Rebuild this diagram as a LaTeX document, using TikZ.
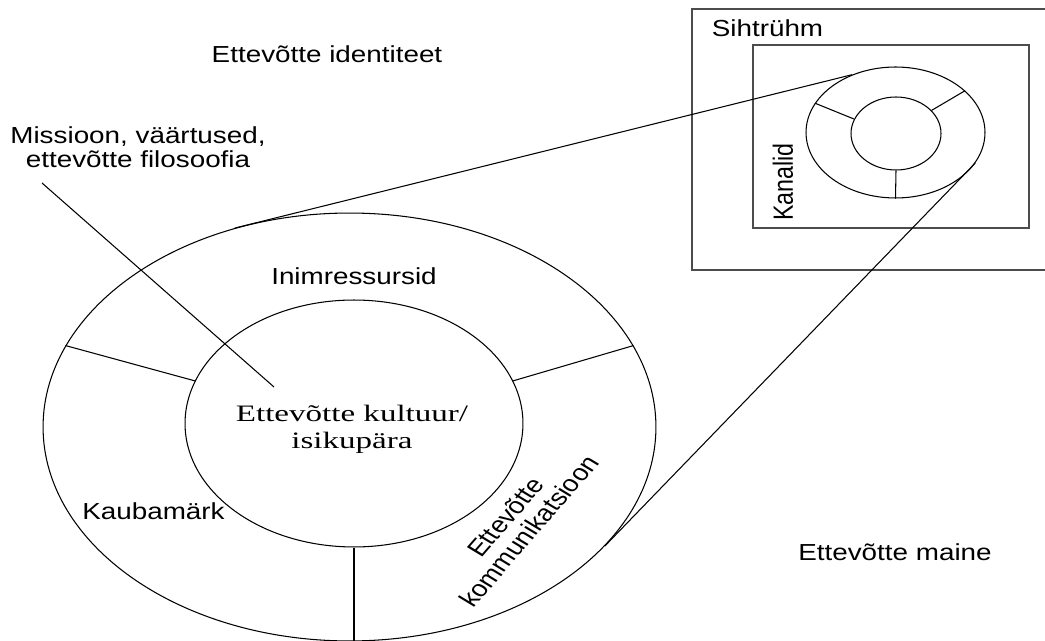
\documentclass[tikz,border=0pt]{standalone}
\usepackage{fontspec}
\setmainfont{Liberation Serif}
\setsansfont{Liberation Sans}
\usetikzlibrary{shapes.geometric}
\usetikzlibrary{calc}

\tikzset{
  ring/.style={ellipse, draw, inner sep=0pt, line width=0.6pt},
  wire/.style={line width=0.6pt},
  frame/.style={line width=0.8pt, black!70},
  lbl/.style={font=\sffamily\fontsize{13.2}{14.2}\selectfont, xscale=1.2, inner sep=0pt, anchor=base, align=center},
  lblserif/.style={lbl, font=\rmfamily\fontsize{13.4}{15.4}\selectfont, xscale=1.17}
}

\begin{document}
\begin{tikzpicture}[x=0.02cm, y=-0.02cm]

      \useasboundingbox (0,0) rectangle (1045,641);

      % Big rings
      \node[ring, minimum width=12.26cm, minimum height=8.56cm] (outer) at (349.5,427) {};
      \node[ring, minimum width=6.76cm, minimum height=4.94cm] (inner) at (354,423.5) {};
      \draw[wire] (inner.165) -- (outer.164);
      \draw[wire] (inner.15) -- (outer.16);
      \draw[wire] (inner.south) -- (inner.south |- outer.south);

      % Frames
      \draw[frame] (1045,9) -- (692,9) -- (692,270) -- (1045,270);
      \draw[frame] (753,45) rectangle (1029,228);

      % Small rings
      \node[ring, minimum width=3.58cm, minimum height=2.62cm] (souter) at (895.5,132.5) {};
      \node[ring, minimum width=1.8cm, minimum height=1.46cm] (sinner) at (896,133.5) {};
      \draw[wire] (sinner.161) -- (souter.160);
      \draw[wire] (sinner.33) -- (souter.31);
      \draw[wire] (sinner.south) -- (souter.south);

      % Zoom lines
      \draw[wire] (outer.120) -- (souter.127);
      \draw[wire] (outer.335) -- (souter.339);

      % Labels (base = last line)
      \node[lbl] (identity) at (327,63) {Ettevõtte identiteet};
      \node[lbl] (mission) at (138,168) {Missioon, väärtused,\\ ettevõtte filosoofia};
      \node[lbl] (target) at (767.5,37) {Sihtrühm};
      \node[lbl] (hr) at (354,285) {Inimressursid};
      \node[lbl] (brand) at (153.5,520) {Kaubamärk};
      \node[lblserif] (culture) at (352,449) {Ettevõtte kultuur/\\ isikupära};
      \node[lbl] (reputation) at (895,561) {Ettevõtte maine};
      \node[lbl, anchor=center, rotate=90] (channels) at (783,182) {Kanalid};
      \node[lbl, anchor=center, rotate=54, font=\sffamily\fontsize{13.2}{13.7}\selectfont] (comm) at (517,524) {Ettevõtte\\ kommunikatsioon};

      % Pointer
      \coordinate (mstart) at (42,183);
      \coordinate (mtip) at (274,387);
      \draw[wire] (mstart) -- (mtip);

\end{tikzpicture}
\end{document}
